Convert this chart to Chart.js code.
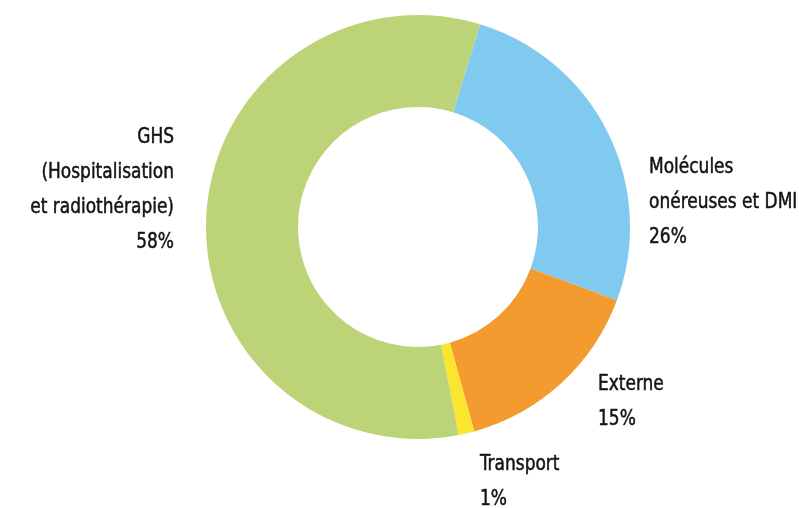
<!DOCTYPE html>
<html>
<head>
<meta charset="utf-8">
<script src="https://cdn.jsdelivr.net/npm/chart.js@4"></script>
<style>
html,body{margin:0;padding:0;background:#fff;}
#wrap{width:799px;height:508px;position:relative;}
</style>
</head>
<body>
<div id="wrap"><canvas id="c" width="799" height="508"></canvas></div>
<script>
const categories = ["Molécules onéreuses et DMI", "Externe", "Transport", "GHS (Hospitalisation et radiothérapie)"];
const values = [25.9, 15.1, 1.2, 57.8];
const percentLabels = ["26%", "15%", "1%", "58%"];
const labelLines = [
  ["Molécules", "onéreuses et DMI"],
  ["Externe"],
  ["Transport"],
  ["GHS", "(Hospitalisation", "et radiothérapie)"]
];
const colors = ["#80caf0", "#f49b2f", "#fbe62e", "#bdd378"];

const FONT = "condensed 21px 'DejaVu Sans Condensed', 'DejaVu Sans', sans-serif";

const labelPlugin = {
  id: 'outerLabels',
  afterDraw(chart) {
    const ctx = chart.ctx;
    const arc = chart.getDatasetMeta(0).data[0];
    const cx = arc.x, cy = arc.y, R = arc.outerRadius;
    const anchors = [
      {x: cx + R + 19, y: cy - 54, align: 'left'},
      {x: cx + R - 32, y: cy + 163, align: 'left'},
      {x: cx + R - 150, y: cy + 243, align: 'left'},
      {x: cx - R - 32, y: cy - 84, align: 'right'}
    ];
    const lh = 35;
    const sx = 0.9;
    ctx.save();
    ctx.font = FONT;
    if ('fontStretch' in ctx) ctx.fontStretch = 'condensed';
    ctx.fillStyle = '#141414';
    ctx.strokeStyle = '#141414';
    ctx.lineWidth = 0.5;
    ctx.lineJoin = 'round';
    ctx.textBaseline = 'alphabetic';
    anchors.forEach((a, i) => {
      ctx.textAlign = a.align;
      const lines = labelLines[i].concat([percentLabels[i]]);
      lines.forEach((t, k) => {
        ctx.save();
        ctx.translate(a.x, a.y + k * lh);
        ctx.scale(sx, 1);
        ctx.fillText(t, 0, 0);
        ctx.strokeText(t, 0, 0);
        ctx.restore();
      });
    });
    ctx.restore();
  }
};

new Chart(document.getElementById('c'), {
  type: 'doughnut',
  data: {
    labels: categories,
    datasets: [{
      data: values,
      backgroundColor: colors,
      borderWidth: 0
    }]
  },
  options: {
    responsive: false,
    animation: false,
    rotation: 17,
    cutout: '56.6%',
    layout: {padding: {left: 206, top: 15, right: 169, bottom: 69}},
    plugins: {legend: {display: false}, tooltip: {enabled: false}}
  },
  plugins: [labelPlugin]
});
</script>
</body>
</html>
